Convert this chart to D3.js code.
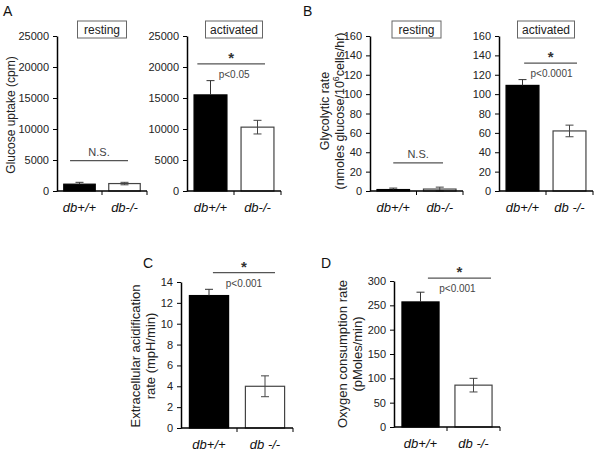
<!DOCTYPE html>
<html><head><meta charset="utf-8">
<script src="https://cdn.jsdelivr.net/npm/d3@7"></script>
<style>body{margin:0;background:#fff}svg{display:block;font-family:"Liberation Sans",Arial,sans-serif}</style>
</head><body>
<svg id="c" width="601" height="451"></svg>
<script>
// ---- data ----
const groups = ["db+/+", "db-/-"];
const groupLabelsSpaced = ["db+/+", "db -/-"];
const colors = ["#000000", "#ffffff"];

const aRestMeans = [1100, 1200];
const aRestErr = [300, 200];
const aActMeans = [15500, 10300];
const aActErr = [2300, 1100];

const bRestMeans = [1.5, 2];
const bRestErr = [1.5, 2];
const bActMeans = [109, 62];
const bActErr = [6, 6];

const cMeans = [12.7, 4.0];
const cErr = [0.6, 1.0];

const dMeans = [257, 86];
const dErr = [20, 14];

const aTicks = [0, 5000, 10000, 15000, 20000, 25000];
const bTicks = [0, 20, 40, 60, 80, 100, 120, 140, 160];
const cTicks = [0, 2, 4, 6, 8, 10, 12, 14];
const dTicks = [0, 50, 100, 150, 200, 250, 300];

// ---- drawing ----
const svg = d3.select("#c");
const grey = "#555";

function panel(o) {
  const g = svg.append("g");
  const y = d3.scaleLinear().domain([0, o.max]).range([o.y0, o.yTop]);
  const x = d3.scaleBand().domain(groups).range([o.x0, o.x1]).paddingInner(o.pad || 0.3).paddingOuter(0.15);

  // bars
  g.selectAll("rect.bar").data(o.means).join("rect")
    .attr("x", (d, i) => x(groups[i]))
    .attr("width", x.bandwidth())
    .attr("y", d => y(d))
    .attr("height", d => y(0) - y(d))
    .attr("fill", (d, i) => colors[i])
    .attr("stroke", (d, i) => i ? "#444" : "#000")
    .attr("stroke-width", 1.2);

  // error bars
  o.means.forEach((m, i) => {
    const cx = x(groups[i]) + x.bandwidth() / 2;
    const lo = i === 0 ? m : Math.max(0, m - o.err[i]);
    const hi = m + o.err[i];
    const col = i ? "#444" : "#333";
    g.append("line").attr("x1", cx).attr("x2", cx).attr("y1", y(lo)).attr("y2", y(hi))
      .attr("stroke", col).attr("stroke-width", 1);
    g.append("line").attr("x1", cx - 4).attr("x2", cx + 4).attr("y1", y(hi)).attr("y2", y(hi))
      .attr("stroke", col).attr("stroke-width", 1);
    if (i !== 0) {
      g.append("line").attr("x1", cx - 4).attr("x2", cx + 4).attr("y1", y(lo)).attr("y2", y(lo))
        .attr("stroke", col).attr("stroke-width", 1);
    }
  });

  // y axis
  const ya = g.append("g").attr("transform", `translate(${o.x0},0)`)
    .call(d3.axisLeft(y).tickValues(o.ticks).tickFormat(d3.format("d")).tickSize(4).tickPadding(4).tickSizeOuter(0));
  ya.select(".domain").attr("stroke", "#000").attr("stroke-width", 1.5);
  ya.selectAll(".tick line").attr("stroke", "#000").attr("stroke-width", 1);
  ya.selectAll(".tick text").attr("font-size", 11).attr("fill", "#222")
    .attr("font-family", "Liberation Sans, Arial, sans-serif");

  // x axis line with ticks at boundaries
  g.append("line").attr("x1", o.x0).attr("x2", o.x1).attr("y1", o.y0).attr("y2", o.y0)
    .attr("stroke", "#000").attr("stroke-width", 1.5);
  const mid = (x(groups[0]) + x.bandwidth() + x(groups[1])) / 2;
  [mid, o.x1].forEach(t => g.append("line").attr("x1", t).attr("x2", t).attr("y1", o.y0).attr("y2", o.y0 + 4)
    .attr("stroke", "#000").attr("stroke-width", 1));

  // x labels
  const labels = o.spaced ? groupLabelsSpaced : groups;
  labels.forEach((lab, i) => {
    g.append("text").attr("x", x(groups[i]) + x.bandwidth() / 2).attr("y", o.y0 + 21)
      .attr("text-anchor", "middle").attr("font-size", 13).attr("font-style", "italic").attr("fill", "#111")
      .text(lab);
  });

  // title box
  if (o.title) {
    const cx = mid;
    const w = o.title === "resting" ? 49 : 57;
    g.append("rect").attr("x", cx - w / 2).attr("y", 21).attr("width", w).attr("height", 17)
      .attr("fill", "#fff").attr("stroke", "#666").attr("stroke-width", 1);
    g.append("text").attr("x", cx).attr("y", 34).attr("text-anchor", "middle")
      .attr("font-size", 12).attr("fill", "#222").text(o.title);
  }

  // significance
  const sy = y(o.sig);
  const sx1 = x(groups[0]) + x.bandwidth() * (o.sigStart || 0.15);
  const sx2 = o.x1 - (o.sigEndInset || 15);
  g.append("line").attr("x1", sx1).attr("x2", sx2).attr("y1", sy).attr("y2", sy)
    .attr("stroke", grey).attr("stroke-width", 1.2);
  const scx = (sx1 + sx2) / 2;
  if (o.sigText === "N.S.") {
    g.append("text").attr("x", scx).attr("y", sy - 5).attr("text-anchor", "middle")
      .attr("font-size", 11).attr("fill", "#444").text("N.S.");
  } else {
    g.append("text").attr("x", scx).attr("y", sy - 1).attr("text-anchor", "middle")
      .attr("font-size", 15).attr("font-weight", "bold").attr("fill", "#333").text("*");
    g.append("text").attr("x", scx + (o.pdx || 0)).attr("y", sy + 14).attr("text-anchor", "middle")
      .attr("font-size", 10).attr("fill", "#444").text(o.sigText);
  }
}

panel({x0: 57, x1: 147, yTop: 36, y0: 191, max: 25000, ticks: aTicks, means: aRestMeans, err: aRestErr,
  title: "resting", sig: 4900, sigText: "N.S.", sigStart: 0.2, sigEndInset: 19});
panel({x0: 187, x1: 281, yTop: 36, y0: 191, max: 25000, ticks: aTicks, means: aActMeans, err: aActErr,
  title: "activated", sig: 20500, sigText: "p<0.05", sigStart: 0.1, sigEndInset: 16, pdx: 3});
panel({x0: 370, x1: 463, yTop: 36, y0: 191, max: 160, ticks: bTicks, means: bRestMeans, err: bRestErr,
  title: "resting", sig: 29, sigText: "N.S.", sigStart: 0.5, sigEndInset: 20});
panel({x0: 499, x1: 593, yTop: 36, y0: 191, max: 160, ticks: bTicks, means: bActMeans, err: bActErr,
  title: "activated", sig: 132, sigText: "p<0.0001", sigStart: 0.55, sigEndInset: 16, pdx: 1, spaced: true});
panel({x0: 181, x1: 293, yTop: 282, y0: 428, max: 14, ticks: cTicks, means: cMeans, err: cErr,
  sig: 14.9, sigText: "p<0.001", sigStart: 0.6, sigEndInset: 18, spaced: true});
panel({x0: 394, x1: 500, yTop: 281, y0: 427, max: 300, ticks: dTicks, means: dMeans, err: dErr,
  sig: 306, sigText: "p<0.001", sigStart: 0.7, sigEndInset: 9, pdx: -2, spaced: true});

// panel letters
[["A", 3, 16], ["B", 303, 16], ["C", 143, 268], ["D", 321, 268]].forEach(([t, px, py]) =>
  svg.append("text").attr("x", px).attr("y", py).attr("font-size", 14).attr("fill", "#111").text(t));

// y axis titles
function ytitle(cx, cy, size, gap, lines) {
  const t = svg.append("text").attr("transform", `translate(${cx},${cy}) rotate(-90)`)
    .attr("text-anchor", "middle").attr("font-size", size).attr("fill", "#222");
  lines.forEach((ln, i) => {
    const row = t.append("tspan").attr("x", 0).attr("y", i * gap);
    if (Array.isArray(ln)) {
      ln.forEach(part => {
        const s = row.append("tspan").text(part.t);
        if (part.sup) s.attr("font-size", size * 0.7).attr("baseline-shift", "super");
      });
    } else row.text(ln);
  });
}
ytitle(15, 115, 12, 15, ["Glucose uptake (cpm)"]);
ytitle(329, 111, 12.5, 15, ["Glycolytic rate", [{t: "(nmoles glucose/10"}, {t: "6", sup: true}, {t: "cells/hr)"}]]);
ytitle(140, 356, 13, 15, ["Extracellular acidification", "rate (mpH/min)"]);
ytitle(347, 354, 13, 14.5, ["Oxygen consumption rate", "(pMoles/min)"]);
</script>
</body></html>
